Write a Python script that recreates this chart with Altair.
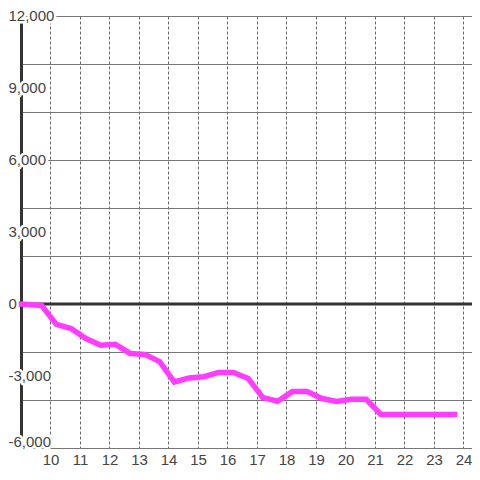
import altair as alt
import pandas as pd

# data
hours = [8.97, 9.7, 10.2, 10.7, 11.2, 11.7, 12.2, 12.7, 13.2, 13.7, 14.2, 14.7,
         15.2, 15.7, 16.2, 16.7, 17.2, 17.7, 18.2, 18.7, 19.2, 19.7, 20.2, 20.7,
         21.2, 21.7, 22.2, 22.7, 23.2, 23.7]
values = [0, -60, -850, -1020, -1440, -1720, -1680, -2060, -2100, -2400, -3250, -3080,
          -3030, -2850, -2850, -3100, -3900, -4050, -3650, -3650, -3940, -4060, -3970, -3970,
          -4600, -4600, -4600, -4600, -4600, -4600]
y_labels = [12000, 9000, 6000, 3000, 0, -3000, -6000]
x_ticks = list(range(10, 25))
y_grid = list(range(-6000, 12001, 1000))

X_DOMAIN = [8.9667, 24.289]
Y_DOMAIN = [-6000, 12000]
FONT = "Liberation Sans"

df = pd.DataFrame({"h": hours, "v": values})
lab = pd.DataFrame({"v": y_labels})
lab["t"] = [f"{v:,}" for v in y_labels]

xs = alt.Scale(domain=X_DOMAIN, nice=False, zero=False)
ys = alt.Scale(domain=Y_DOMAIN, nice=False, zero=False)

base = alt.Chart(df).mark_line(
    color="#ff3cff", strokeWidth=5.5, strokeCap="square", strokeJoin="miter"
).encode(
    x=alt.X("h:Q", scale=xs, title=None,
            axis=alt.Axis(values=x_ticks, grid=True, gridColor="#666", gridDash=[3, 2],
                          gridWidth=1, ticks=False, domain=False, labelFontSize=15,
                          labelFont=FONT, labelColor="#444", labelPadding=4,
                          labelFlush=False)),
    y=alt.Y("v:Q", scale=ys, title=None,
            axis=alt.Axis(values=y_grid, grid=True, gridColor="#777", gridWidth=1,
                          ticks=False, labels=False, domain=True, domainColor="#333",
                          domainWidth=3, offset=-1)),
)

zero = alt.Chart(pd.DataFrame({"v": [0]})).mark_rule(color="#333", strokeWidth=3).encode(
    y=alt.Y("v:Q", scale=ys)
)

pos = alt.Chart(lab).transform_filter("datum.v >= 0")
neg3 = alt.Chart(lab).transform_filter("datum.v < 0 && datum.v > -6000")
neg6 = alt.Chart(lab).transform_filter("datum.v == -6000")

def label_layers(src, x, align, dy=0):
    halo = src.mark_text(align=align, baseline="middle", fontSize=15, font=FONT,
                         fill="white", stroke="white", strokeWidth=5, strokeJoin="round",
                         dy=dy).encode(
        x=alt.value(x), y=alt.Y("v:Q", scale=ys), text="t:N")
    txt = src.mark_text(align=align, baseline="middle", fontSize=15, font=FONT,
                        color="#444", dy=dy).encode(
        x=alt.value(x), y=alt.Y("v:Q", scale=ys), text="t:N")
    return [halo, txt]

layers = [zero, base]
layers += label_layers(pos, -11.5, "left")
layers += label_layers(neg3, -11.5, "left")
layers += label_layers(neg6, -11.5, "left", dy=-6)

chart = alt.layer(*layers).properties(
    width=452, height=432,
    autosize=alt.AutoSizeParams(type="none"),
    padding={"left": 12, "top": 8, "right": 0, "bottom": 24},
).configure_view(stroke=None).configure(background="white")

chart.save("out.html", embed_options={"renderer": "svg", "actions": False})
